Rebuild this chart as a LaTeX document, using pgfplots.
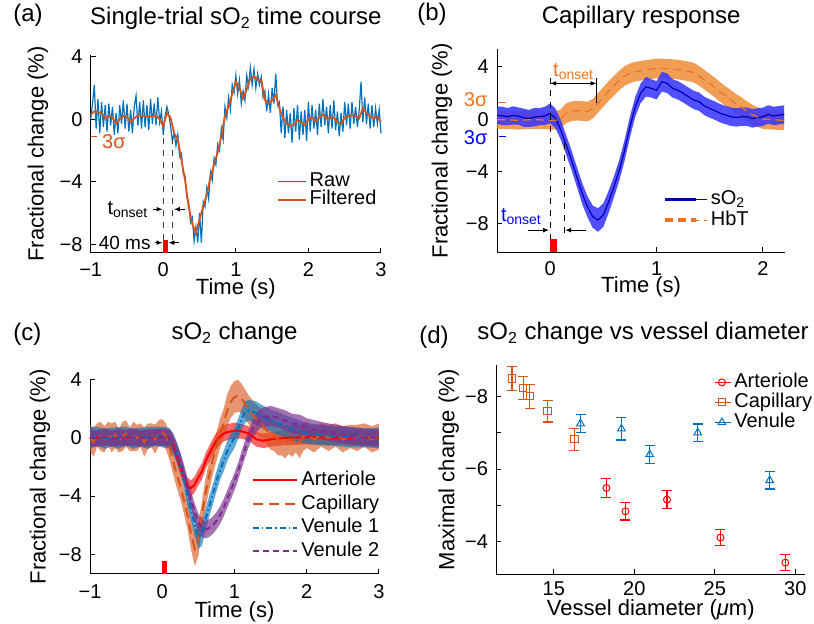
\documentclass[border=0pt]{standalone}
\usepackage{fontspec}
\setmainfont{Liberation Sans}
\usepackage{pgfplots}
\pgfplotsset{compat=1.18}
\usepackage{pgfplotstable}
\usepgfplotslibrary{fillbetween}
\usetikzlibrary{arrows.meta}

\definecolor{mblue}{rgb}{0,0.447,0.741}
\definecolor{morange}{rgb}{0.85,0.325,0.098}
\definecolor{mpurple}{rgb}{0.494,0.184,0.556}
\definecolor{hbt}{rgb}{0.93,0.45,0.13}
\definecolor{hbtband}{rgb}{0.93,0.52,0.16}
\definecolor{so2band}{rgb}{0.22,0.22,1}

% (a) single trial
\pgfplotstableread{
t y
-1.000 0.0
-0.975 1.0
-0.950 2.2
-0.925 -0.6
-0.900 1.3
-0.875 -0.9
-0.850 1.1
-0.825 -0.5
-0.800 0.9
-0.775 -0.8
-0.750 1.0
-0.725 -0.4
-0.700 0.8
-0.675 -1.0
-0.650 0.4
-0.625 -0.9
-0.600 0.9
-0.575 -0.3
-0.550 1.2
-0.525 -0.6
-0.500 1.0
-0.475 -0.8
-0.450 0.6
-0.425 -0.9
-0.400 0.8
-0.375 1.5
-0.350 -0.4
-0.325 1.1
-0.300 -0.6
-0.275 1.2
-0.250 -0.5
-0.225 0.9
-0.200 -0.7
-0.175 1.3
-0.150 -0.3
-0.125 1.0
-0.100 -0.4
-0.075 1.4
-0.050 -0.2
-0.025 0.5
0.000 -1.0
0.025 0.2
0.050 0.8
0.075 0.3
0.100 -0.4
0.125 -1.4
0.150 -0.9
0.175 -1.7
0.200 -1.0
0.225 -2.4
0.250 -2.2
0.275 -3.5
0.300 -3.6
0.325 -5.0
0.350 -5.3
0.375 -6.6
0.400 -6.3
0.425 -7.8
0.450 -6.9
0.475 -7.9
0.500 -6.0
0.525 -7.9
0.550 -5.3
0.575 -5.6
0.600 -4.4
0.625 -5.1
0.650 -3.4
0.675 -3.9
0.700 -2.5
0.725 -2.9
0.750 -1.6
0.775 -2.0
0.800 -0.6
0.825 -1.3
0.850 0.8
0.875 0.1
0.900 1.4
0.925 0.6
0.950 2.2
0.975 1.7
1.000 2.8
1.025 1.6
1.050 2.5
1.075 1.0
1.100 1.8
1.125 1.2
1.150 2.8
1.175 2.1
1.200 3.3
1.225 2.2
1.250 3.2
1.275 2.0
1.300 2.9
1.325 2.2
1.350 2.7
1.375 1.4
1.400 1.8
1.425 0.5
1.450 1.6
1.475 0.4
1.500 2.0
1.525 1.0
1.550 2.9
1.575 0.9
1.600 1.1
1.625 -0.9
1.650 0.8
1.675 -1.2
1.700 0.6
1.725 -0.9
1.750 0.4
1.775 -1.5
1.800 0.7
1.825 -0.8
1.850 0.9
1.875 -1.3
1.900 0.5
1.925 -1.0
1.950 0.6
1.975 -1.4
2.000 1.1
2.025 -0.8
2.050 0.9
2.075 -0.6
2.100 0.6
2.125 -1.0
2.150 1.0
2.175 -0.5
2.200 1.3
2.225 -0.4
2.250 0.8
2.275 -0.9
2.300 0.9
2.325 -0.6
2.350 1.2
2.375 -0.7
2.400 0.5
2.425 -1.1
2.450 0.4
2.475 -0.8
2.500 1.1
2.525 -0.4
2.550 1.0
2.575 -0.6
2.600 1.1
2.625 -0.3
2.650 0.8
2.675 -0.5
2.700 0.6
2.725 2.4
2.750 -0.2
2.775 1.4
2.800 -0.3
2.825 1.0
2.850 -0.6
2.875 0.9
2.900 -0.5
2.925 0.7
2.950 -0.3
2.975 0.6
3.000 -0.9
}\rawdata

\pgfplotstableread{
t y
-1.00 0.27
-0.95 0.5
-0.90 0.45
-0.85 0.4
-0.80 0.05
-0.75 0.2
-0.70 0.1
-0.65 -0.3
-0.60 0.0
-0.55 0.2
-0.50 0.16
-0.45 -0.2
-0.40 0.05
-0.35 0.25
-0.30 0.2
-0.25 0.16
-0.20 0.16
-0.15 0.18
-0.10 0.25
-0.05 0.0
0.00 -0.45
0.05 0.4
0.10 0.1
0.15 -0.9
0.20 -1.3
0.25 -2.6
0.30 -3.9
0.35 -5.6
0.40 -6.7
0.45 -7.3
0.50 -6.4
0.55 -5.6
0.60 -4.8
0.65 -3.7
0.70 -2.9
0.75 -2.1
0.80 -1.1
0.85 0.2
0.90 0.8
0.95 1.6
1.00 2.4
1.05 2.0
1.10 1.33
1.15 1.9
1.20 2.6
1.25 2.75
1.30 2.5
1.35 2.5
1.40 1.23
1.45 1.0
1.50 1.2
1.55 1.55
1.60 0.7
1.65 0.1
1.70 -0.3
1.75 -0.45
1.80 -0.35
1.85 -0.05
1.90 -0.2
1.95 -0.37
2.00 0.0
2.05 0.1
2.10 -0.15
2.15 0.1
2.20 0.3
2.25 0.05
2.30 0.1
2.35 0.1
2.40 -0.2
2.45 -0.3
2.50 0.1
2.55 0.2
2.60 0.25
2.65 0.2
2.70 0.05
2.75 0.7
2.80 0.4
2.85 0.2
2.90 0.05
2.95 0.15
3.00 -0.16
}\filtdata

% (b) capillary response: mean m, half band e
\pgfplotstableread{
t m e
-0.5 0.30 0.65
-0.45 0.25 0.7
-0.4 0.19 0.65
-0.35 0.28 0.7
-0.3 0.24 0.65
-0.25 0.10 0.7
-0.2 0.05 0.65
-0.15 0.15 0.7
-0.1 0.19 0.65
-0.05 0.25 0.7
0.0 0.44 0.75
0.05 0.05 0.75
0.1 -0.83 0.75
0.15 -1.97 0.75
0.2 -3.12 0.75
0.25 -4.39 0.75
0.3 -5.66 0.8
0.35 -6.68 0.8
0.4 -7.44 0.85
0.45 -7.7 0.9
0.5 -7.31 0.9
0.55 -6.3 0.85
0.6 -5.15 0.8
0.65 -3.88 0.8
0.7 -2.36 0.8
0.75 -0.58 0.8
0.8 0.95 0.75
0.85 1.97 0.75
0.9 2.47 0.75
0.95 2.35 0.7
1.0 2.2 0.7
1.05 2.86 0.75
1.1 2.73 0.75
1.15 2.35 0.7
1.2 2.2 0.7
1.25 1.97 0.7
1.3 1.71 0.7
1.35 1.46 0.7
1.4 1.33 0.7
1.45 1.0 0.7
1.5 0.81 0.7
1.55 0.64 0.7
1.6 0.44 0.7
1.65 0.31 0.7
1.7 0.18 0.7
1.75 0.13 0.7
1.8 0.18 0.7
1.85 0.18 0.7
1.9 0.05 0.7
1.95 0.13 0.7
2.0 0.18 0.7
2.05 0.36 0.7
2.1 0.24 0.7
2.15 0.3 0.7
2.2 0.36 0.7
}\sotwo

\pgfplotstableread{
t m e
-0.5 -0.05 0.7
-0.4 -0.05 0.7
-0.3 -0.1 0.7
-0.2 -0.05 0.7
-0.1 -0.05 0.7
0.0 -0.1 0.7
0.05 -0.1 0.7
0.1 0.05 0.7
0.15 0.45 0.75
0.2 0.6 0.75
0.25 0.65 0.75
0.3 0.62 0.75
0.35 0.58 0.75
0.4 0.8 0.75
0.45 1.25 0.75
0.5 1.7 0.75
0.55 2.15 0.75
0.6 2.55 0.75
0.65 2.95 0.75
0.7 3.3 0.75
0.75 3.5 0.75
0.8 3.62 0.75
0.85 3.69 0.75
0.9 3.75 0.75
1.0 3.87 0.75
1.1 3.85 0.75
1.2 3.78 0.75
1.3 3.65 0.75
1.35 3.55 0.75
1.4 3.3 0.75
1.45 3.0 0.75
1.5 2.7 0.75
1.55 2.4 0.75
1.6 2.05 0.75
1.65 1.75 0.75
1.7 1.45 0.75
1.75 1.15 0.75
1.8 0.9 0.75
1.85 0.6 0.75
1.9 0.35 0.75
1.95 0.15 0.75
2.0 0.0 0.75
2.1 -0.05 0.75
2.2 -0.1 0.75
}\hbtdata

% (c) sO2 change per vessel type
\pgfplotstableread{
t m e
-1.0 0.0 0.5
-0.8 0.05 0.5
-0.6 -0.05 0.5
-0.4 0.05 0.5
-0.2 0.0 0.5
0.0 0.05 0.5
0.1 0.0 0.5
0.15 -0.4 0.5
0.2 -1.2 0.5
0.25 -2.0 0.5
0.3 -2.7 0.5
0.35 -3.3 0.55
0.4 -3.45 0.55
0.45 -3.2 0.55
0.5 -2.7 0.55
0.55 -2.3 0.55
0.6 -1.6 0.55
0.65 -1.1 0.55
0.7 -0.6 0.55
0.75 -0.2 0.55
0.8 0.1 0.55
0.85 0.3 0.55
0.9 0.4 0.55
0.95 0.45 0.55
1.0 0.5 0.55
1.1 0.45 0.5
1.2 0.3 0.5
1.3 -0.1 0.5
1.4 -0.2 0.5
1.5 -0.1 0.5
1.7 0.0 0.5
2.0 0.05 0.5
2.5 0.0 0.5
3.0 0.0 0.5
}\artdata

\pgfplotstableread{
t m e
-1.0 0.0 0.9
-0.95 -0.3 1.0
-0.9 0.2 0.8
-0.85 0.1 1.0
-0.8 -0.1 0.9
-0.75 0.3 0.8
-0.7 0.0 1.0
-0.65 0.2 0.9
-0.6 -0.2 0.8
-0.55 0.1 1.0
-0.5 0.3 0.9
-0.45 -0.1 0.8
-0.4 0.1 1.0
-0.35 0.0 0.9
-0.3 0.2 0.8
-0.25 -0.3 1.0
-0.2 0.1 0.9
-0.15 0.2 0.8
-0.1 -0.1 1.0
-0.05 0.3 0.9
0.0 0.4 0.9
0.05 0.1 0.9
0.1 -0.6 0.9
0.15 -1.6 0.9
0.2 -2.5 0.9
0.25 -3.3 0.9
0.3 -4.3 0.9
0.35 -5.3 1.0
0.4 -6.6 1.1
0.45 -7.6 1.2
0.5 -7.0 1.1
0.55 -5.3 1.0
0.6 -3.8 1.0
0.65 -2.6 1.0
0.7 -1.5 1.0
0.75 -0.6 1.0
0.8 0.3 1.0
0.85 1.0 1.0
0.9 1.9 1.1
0.95 2.5 1.1
1.0 2.8 1.1
1.05 2.9 1.1
1.1 2.7 1.0
1.15 2.3 1.0
1.2 1.9 1.0
1.25 1.6 1.0
1.3 1.3 1.0
1.35 1.1 1.0
1.4 0.8 0.9
1.45 0.5 1.0
1.5 0.3 1.1
1.55 0.1 1.0
1.6 -0.1 1.1
1.65 -0.2 1.0
1.7 -0.3 1.1
1.75 -0.1 1.0
1.8 -0.2 1.1
1.85 0.0 1.0
1.9 -0.3 1.1
1.95 0.1 1.0
2.0 0.2 0.9
2.1 -0.1 0.9
2.2 0.2 0.8
2.3 0.0 0.9
2.4 0.2 0.8
2.5 -0.1 0.9
2.6 0.1 0.8
2.7 0.0 0.9
2.8 0.2 0.8
2.9 -0.1 0.9
3.0 0.1 0.9
}\capdata

\pgfplotstableread{
t m e
-1.0 0.0 0.75
-0.9 0.1 0.65
-0.8 -0.05 0.7
-0.7 0.05 0.65
-0.6 0.0 0.75
-0.5 0.1 0.65
-0.4 -0.05 0.7
-0.3 0.05 0.65
-0.2 0.0 0.75
-0.1 0.1 0.65
0.0 0.05 0.7
0.1 0.0 0.7
0.15 -0.4 0.7
0.2 -1.0 0.7
0.25 -1.7 0.7
0.3 -2.7 0.7
0.35 -4.0 0.7
0.4 -5.0 0.7
0.45 -6.0 0.75
0.5 -6.8 0.8
0.55 -6.6 0.8
0.6 -5.6 0.75
0.65 -4.7 0.7
0.7 -3.9 0.7
0.75 -3.0 0.7
0.8 -2.2 0.7
0.85 -1.6 0.7
0.9 -0.9 0.7
0.95 -0.4 0.7
1.0 0.0 0.7
1.05 0.6 0.7
1.1 1.3 0.7
1.15 1.8 0.75
1.2 1.9 0.7
1.25 1.8 0.75
1.3 1.7 0.8
1.35 1.6 0.75
1.4 1.4 0.8
1.5 1.2 0.75
1.6 1.0 0.8
1.7 0.8 0.75
1.8 0.6 0.8
1.9 0.45 0.75
2.0 0.3 0.7
2.2 0.2 0.7
2.4 0.1 0.65
2.6 0.05 0.7
2.8 0.0 0.65
3.0 0.0 0.7
}\vonedata

\pgfplotstableread{
t m e
-1.0 0.0 0.6
-0.9 -0.05 0.55
-0.8 0.05 0.6
-0.7 -0.05 0.55
-0.6 0.05 0.6
-0.5 0.0 0.55
-0.4 0.05 0.6
-0.3 -0.05 0.55
-0.2 0.0 0.6
-0.1 0.05 0.55
0.0 0.05 0.6
0.1 0.0 0.6
0.15 -0.3 0.6
0.2 -0.9 0.6
0.25 -1.6 0.6
0.3 -2.4 0.6
0.35 -3.4 0.6
0.4 -4.3 0.6
0.45 -5.1 0.6
0.5 -5.8 0.6
0.55 -6.2 0.6
0.6 -6.3 0.6
0.65 -6.2 0.6
0.7 -6.0 0.6
0.75 -5.7 0.6
0.8 -5.3 0.6
0.85 -4.8 0.6
0.9 -4.2 0.6
0.95 -3.6 0.6
1.0 -3.0 0.6
1.05 -2.3 0.6
1.1 -1.5 0.6
1.15 -0.7 0.6
1.2 0.0 0.6
1.25 0.6 0.6
1.3 1.0 0.65
1.35 1.3 0.65
1.4 1.45 0.65
1.5 1.5 0.7
1.6 1.4 0.65
1.7 1.2 0.7
1.8 1.0 0.65
1.9 0.9 0.7
2.0 0.7 0.65
2.2 0.5 0.6
2.4 0.3 0.6
2.6 0.15 0.6
2.8 0.05 0.6
3.0 0.0 0.6
}\vtwodata

% (d) maximal change vs diameter
\pgfplotstableread{
x y e
18.27 -5.48 0.25
19.45 -4.84 0.24
22.03 -5.16 0.25
25.35 -4.12 0.23
29.38 -3.43 0.22
}\dart
\pgfplotstableread{
x y e
12.41 -8.49 0.33
13.10 -8.23 0.31
13.51 -8.00 0.33
14.61 -7.59 0.30
16.28 -6.82 0.30
}\dcap
\pgfplotstableread{
x y e
16.66 -7.25 0.25
19.20 -7.11 0.31
20.96 -6.40 0.25
23.94 -7.00 0.24
28.41 -5.69 0.24
}\dven

\pgfplotsset{
  mstyle/.style={
    scale only axis, anchor=south west,
    axis x line*=bottom, axis y line*=left,
    axis line style={-, line width=0.5pt},
    tick align=inside, major tick length=2.5pt,
    tick style={black, line width=0.5pt},
    tick label style={font=\fontsize{10}{12}\selectfont},
    yticklabel style={xshift=-0.6pt},
    label style={font=\fontsize{11}{13}\selectfont},
    title style={font=\fontsize{12}{14}\selectfont, at={(0.5,1)}, anchor=base},
    ylabel style={anchor=center},
    xlabel style={anchor=base},
    clip=false,
    legend cell align=left,
    legend style={draw=none, fill=none, inner sep=0pt, anchor=west,
      font=\fontsize{10}{12}\selectfont},
  },
}
\tikzset{arr/.style={-{Latex[length=3pt,width=2.4pt]}, line width=0.5pt}}

\begin{document}
\begin{tikzpicture}
\node[anchor=base west, inner sep=0pt, font=\fontsize{12}{14}\selectfont] at (6.5pt,301.15pt) {(a)};
\node[anchor=base west, inner sep=0pt, font=\fontsize{12}{14}\selectfont] at (208.5pt,301.65pt) {(b)};
\node[anchor=base west, inner sep=0pt, font=\fontsize{12}{14}\selectfont] at (6.5pt,141.85pt) {(c)};
\node[anchor=base west, inner sep=0pt, font=\fontsize{12}{14}\selectfont] at (209.5pt,140.15pt) {(d)};

% ---------------- (a)
\begin{axis}[mstyle, at={(45.35pt,185.65pt)}, width=145.15pt, height=98.8pt,
  xmin=-1, xmax=3, ymin=-8.54, ymax=4.1,
  xtick={-1,0,1,2,3}, xticklabels={−1,0,1,2,3},
  ytick={-8,-4,0,4}, yticklabels={−8,−4,0,4},
  xticklabel style={yshift=-1.5pt},
  title={Single-trial sO\textsubscript{2} time course}, title style={yshift=9.2pt},
  xlabel={Time (s)}, ylabel={Fractional change (\%)},
  xlabel style={at={(axis description cs:0.5,-0.214)}},
  ylabel style={at={(axis description cs:-0.1815,0.5)}},
  legend style={at={(0.64,0.313)}, nodes={inner xsep=1.5pt, inner ysep=0pt, text height=7pt, text depth=2pt}},
  legend image code/.code={\draw[#1] (0pt,0pt) -- (14pt,0pt);},
]
\addplot[mblue, line width=0.6pt] table[x=t, y=y] {\rawdata};
\addlegendentry{Raw}
\addplot[morange, line width=0.9pt] table[x=t, y=y] {\filtdata};
\addlegendentry{Filtered}
\addplot[black!75, dashed, line width=0.5pt, forget plot] coordinates {(0,-1.22) (0,-7.73)};
\addplot[black!75, dashed, line width=0.5pt, forget plot] coordinates {(0.134,-1.22) (0.134,-7.73)};
\addplot[fill=red, draw=none, forget plot] coordinates {(0,-8.54) (0,-7.73) (0.06,-7.73) (0.06,-8.54)} -- cycle;
\draw[morange, line width=0.6pt] (axis cs:-1,-1.1) -- (axis cs:-0.92,-1.1);
\node[text=morange, font=\fontsize{10}{12}\selectfont] at (axis cs:-0.68,-1.44) {3σ};
\node[anchor=east, inner sep=0pt, font=\fontsize{10}{12}\selectfont] at (axis cs:-0.2,-5.76) {t\textsubscript{onset}};
\draw[arr] (axis cs:-0.14,-5.76) -- (axis cs:-0.01,-5.76);
\draw[arr] (axis cs:0.295,-5.76) -- (axis cs:0.145,-5.76);
\node[anchor=east, inner sep=0pt, font=\fontsize{9.5}{11}\selectfont] at (axis cs:-0.17,-7.9) {40 ms};
\draw[arr] (axis cs:-0.12,-7.9) -- (axis cs:-0.01,-7.9);
\draw[arr] (axis cs:0.21,-7.9) -- (axis cs:0.07,-7.9);
\end{axis}

% ---------------- (b)
\begin{axis}[mstyle, at={(248.5pt,185.85pt)}, width=144.15pt, height=101.5pt,
  xmin=-0.5, xmax=2.21, ymin=-10.16, ymax=5.33,
  xtick={0,1,2}, xticklabels={0,1,2},
  ytick={-8,-4,0,4}, yticklabels={−8,−4,0,4},
  xticklabel style={inner ysep=0.8pt, yshift=-3.5pt},
  title={Capillary response}, title style={yshift=6.65pt},
  xlabel={Time (s)}, ylabel={Fractional change (\%)},
  xlabel style={at={(axis description cs:0.5,-0.2)}},
  ylabel style={at={(axis description cs:-0.1908,0.5)}},
  legend style={at={(0.576,0.312)}, anchor=north west, nodes={inner xsep=1.5pt, inner ysep=0pt, text height=7.8pt, text depth=2.5pt}},
  legend image code/.code={\path (0pt,0pt) -- (21pt,0pt); \draw[#1, line width=1.8pt] (0pt,0pt) -- (15.4pt,0pt);},
]
\addplot[name path=hu, draw=none, forget plot] table[x=t, y expr=\thisrow{m}+\thisrow{e}] {\hbtdata};
\addplot[name path=hl, draw=none, forget plot] table[x=t, y expr=\thisrow{m}-\thisrow{e}] {\hbtdata};
\addplot[fill=hbtband, fill opacity=0.8, draw=none, forget plot] fill between[of=hu and hl];
\addplot[name path=su, draw=none, forget plot] table[x=t, y expr=\thisrow{m}+\thisrow{e}] {\sotwo};
\addplot[name path=sl, draw=none, forget plot] table[x=t, y expr=\thisrow{m}-\thisrow{e}] {\sotwo};
\addplot[fill=so2band, fill opacity=0.88, draw=none, forget plot] fill between[of=su and sl];
\addplot[blue!70!black, line width=0.6pt] table[x=t, y=m] {\sotwo};
\addlegendentry{sO\textsubscript{2}}
\addplot[hbt, line width=0.6pt, dash pattern=on 4pt off 2.5pt] table[x=t, y=m] {\hbtdata};
\addlegendentry{HbT}
\addplot[black, dashed, line width=0.5pt, forget plot] coordinates {(0,3.11) (0,-9.17)};
\addplot[black, dashed, line width=0.5pt, forget plot] coordinates {(0.13,-1.85) (0.13,-9.17)};
\addplot[black, line width=0.5pt, forget plot] coordinates {(0.436,3.11) (0.436,1.2)};
\addplot[fill=red, draw=none, forget plot] coordinates {(0,-10.16) (0,-9.17) (0.06,-9.17) (0.06,-10.16)} -- cycle;
\draw[{Latex[length=3pt,width=2.4pt]}-{Latex[length=3pt,width=2.4pt]}, line width=0.5pt] (axis cs:0,2.73) -- (axis cs:0.436,2.73);
\node[text=hbt, font=\fontsize{10}{12}\selectfont] at (axis cs:0.22,3.62) {t\textsubscript{onset}};
\node[text=blue, font=\fontsize{10}{12}\selectfont] at (axis cs:-0.27,-7.45) {t\textsubscript{onset}};
\draw[arr] (axis cs:-0.21,-8.47) -- (axis cs:-0.01,-8.47);
\draw[arr] (axis cs:0.34,-8.47) -- (axis cs:0.14,-8.47);
\draw[hbt, line width=0.6pt] (axis cs:-0.487,1.28) -- (axis cs:-0.418,1.28);
\draw[blue, line width=0.6pt] (axis cs:-0.48,-1.34) -- (axis cs:-0.418,-1.34);
\node[text=hbt, font=\fontsize{10}{12}\selectfont] at (axis cs:-0.7,1.5) {3σ};
\node[text=blue, font=\fontsize{10}{12}\selectfont] at (axis cs:-0.7,-1.42) {3σ};
\end{axis}

% ---------------- (c)
\begin{axis}[mstyle, at={(45pt,25.15pt)}, width=144.5pt, height=97pt,
  xmin=-1, xmax=3, ymin=-9.33, ymax=4,
  xtick={-1,0,1,2,3}, xticklabels={−1,0,1,2,3},
  ytick={-8,-4,0,4}, yticklabels={−8,−4,0,4},
  xticklabel style={yshift=-2pt},
  title={sO\textsubscript{2} change}, title style={yshift=13.85pt},
  xlabel={Time (s)}, ylabel={Fractional change (\%)},
  xlabel style={at={(axis description cs:0.5,-0.225)}},
  ylabel style={at={(axis description cs:-0.173,0.5)}},
  legend style={at={(0.558,0.298)}, row sep=2.3pt, nodes={inner xsep=1.5pt, inner ysep=0pt, text height=7.3pt, text depth=2.2pt}},
  legend image code/.code={\draw[#1] (0pt,0pt) -- (22.4pt,0pt);},
]
\addplot[name path=au, draw=none, forget plot] table[x=t, y expr=\thisrow{m}+\thisrow{e}] {\artdata};
\addplot[name path=al, draw=none, forget plot] table[x=t, y expr=\thisrow{m}-\thisrow{e}] {\artdata};
\addplot[fill=red, fill opacity=0.6, draw=none, forget plot] fill between[of=au and al];
\addplot[name path=cu, draw=none, forget plot] table[x=t, y expr=\thisrow{m}+\thisrow{e}] {\capdata};
\addplot[name path=cl, draw=none, forget plot] table[x=t, y expr=\thisrow{m}-\thisrow{e}] {\capdata};
\addplot[fill=morange, fill opacity=0.62, draw=none, forget plot] fill between[of=cu and cl];
\addplot[name path=v1u, draw=none, forget plot] table[x=t, y expr=\thisrow{m}+\thisrow{e}] {\vonedata};
\addplot[name path=v1l, draw=none, forget plot] table[x=t, y expr=\thisrow{m}-\thisrow{e}] {\vonedata};
\addplot[fill=mblue, fill opacity=0.62, draw=none, forget plot] fill between[of=v1u and v1l];
\addplot[name path=v2u, draw=none, forget plot] table[x=t, y expr=\thisrow{m}+\thisrow{e}] {\vtwodata};
\addplot[name path=v2l, draw=none, forget plot] table[x=t, y expr=\thisrow{m}-\thisrow{e}] {\vtwodata};
\addplot[fill=mpurple, fill opacity=0.68, draw=none, forget plot] fill between[of=v2u and v2l];
\addplot[red, line width=1pt] table[x=t, y=m] {\artdata};
\addlegendentry{Arteriole}
\addplot[morange, line width=1pt, dash pattern=on 5pt off 3pt] table[x=t, y=m] {\capdata};
\addlegendentry{Capillary}
\addplot[mblue, line width=1pt, dash pattern=on 3pt off 1.5pt on 0.8pt off 1.5pt] table[x=t, y=m] {\vonedata};
\addlegendentry{Venule 1}
\addplot[mpurple, line width=1pt, dash pattern=on 3pt off 2pt] table[x=t, y=m] {\vtwodata};
\addlegendentry{Venule 2}
\addplot[fill=red, draw=none, forget plot] coordinates {(0,-9.33) (0,-8.48) (0.06,-8.48) (0.06,-9.33)} -- cycle;
\end{axis}

% ---------------- (d)
\begin{axis}[mstyle, at={(248.15pt,24.85pt)}, width=154.5pt, height=104.5pt,
  xmin=11.43, xmax=30.62, ymin=-8.85, ymax=-3.11, y dir=reverse,
  xtick={15,20,25,30}, xticklabels={15,20,25,30},
  ytick={-8,-7,-6,-5,-4}, yticklabels={−8,,−6,,−4},
  title={sO\textsubscript{2} change vs vessel diameter}, title style={at={(0.475,1)}, yshift=6.65pt},
  xlabel={Vessel diameter ({\itshape μ}m)}, ylabel={Maximal change (\%)},
  xlabel style={at={(axis description cs:0.5,-0.195)}},
  ylabel style={at={(axis description cs:-0.154,0.5)}},
  legend style={at={(0.705,0.968)}, anchor=north west, nodes={inner xsep=1.5pt, inner ysep=0pt, text height=7.5pt, text depth=2.5pt}},
  legend image code/.code={\path (0pt,0pt) -- (8pt,0pt); \draw[mark repeat=2, mark phase=2, #1] plot coordinates {(0pt,0pt) (3.5pt,0pt) (7pt,0pt)};},
  error bars/error bar style={line width=0.6pt},
  error bars/error mark options={rotate=90, mark size=2.5pt, line width=0.6pt},
]
\addplot[red, only marks, mark=o, mark size=1.75pt, mark options={line width=0.5pt},
  error bars/.cd, y dir=both, y explicit] table[x=x, y=y, y error=e] {\dart};
\addlegendentry{Arteriole}
\addplot[morange, only marks, mark=square, mark size=1.8pt, mark options={line width=0.5pt},
  error bars/.cd, y dir=both, y explicit] table[x=x, y=y, y error=e] {\dcap};
\addlegendentry{Capillary}
\addplot[mblue, only marks, mark=triangle, mark size=2.2pt, mark options={line width=0.5pt},
  error bars/.cd, y dir=both, y explicit] table[x=x, y=y, y error=e] {\dven};
\addlegendentry{Venule}
\end{axis}
\pgfresetboundingbox
\path[use as bounding box] (0,0) rectangle (407pt,312pt);
\end{tikzpicture}
\end{document}
